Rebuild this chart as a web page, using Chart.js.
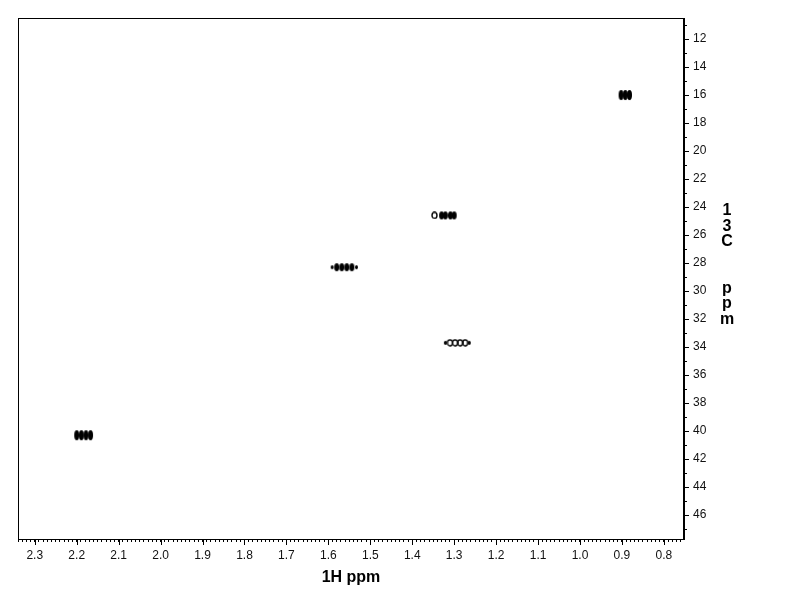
<!DOCTYPE html>
<html>
<head>
<meta charset="utf-8">
<title>HSQC</title>
<script src="https://cdn.jsdelivr.net/npm/chart.js@4.4.0/dist/chart.umd.min.js"></script>
<style>
  html, body { margin: 0; padding: 0; background: #fff; }
  canvas { display: block; }
</style>
</head>
<body>
<canvas id="hsqc" width="792" height="612"></canvas>
<script>
// axis ranges (ppm), both reversed like the spectrum
const hRange = [0.752, 2.34];
const cRange = [10.5, 47.71];
const hMinorStep = 0.01, hLabelStep = 0.1;
const cMinorStep = 1, cLabelStep = 2;

// cross peaks: 13C shift and the 1H multiplet lines
const c16 = 16.0, h16 = [0.902, 0.892, 0.882];
const c24 = 24.6, h24 = [1.347, 1.330, 1.321, 1.309, 1.300];
const c28 = 28.3, h28 = [1.591, 1.580, 1.568, 1.556, 1.544, 1.533];
const c33 = 33.7, h33 = [1.321, 1.310, 1.298, 1.286, 1.274, 1.264];
const c40 = 40.3, h40 = [2.200, 2.189, 2.178, 2.167];

const xTitle = "1H ppm";
const yTitle = ["1", "3", "C", "", "", "p", "p", "m"];

Chart.defaults.font.family = "'Liberation Sans', Arial, sans-serif";
Chart.defaults.color = "#111";

function blob(w, h, hollow) {
  const c = document.createElement("canvas");
  c.width = w + 2;
  c.height = h + 2;
  const g = c.getContext("2d");
  g.beginPath();
  g.ellipse(c.width / 2, c.height / 2, w / 2, h / 2, 0, 0, Math.PI * 2);
  if (hollow) {
    g.lineWidth = 1.4;
    g.strokeStyle = "#000";
    g.stroke();
  } else {
    g.fillStyle = "#000";
    g.fill();
  }
  return c;
}

const big = blob(5, 10, false);
const mid = blob(5, 8, false);
const small = blob(3, 4, false);
const ring = blob(5, 6, true);

function onStep(v, step) {
  const r = v / step;
  return Math.abs(r - Math.round(r)) < 1e-6;
}

function peak(c, hs, styleFn) {
  return {
    data: hs.map(h => ({ x: h, y: c })),
    pointStyle: ctx => styleFn(ctx.dataIndex, hs.length),
    pointRadius: 4,
    showLine: false
  };
}

const edgeSmall = (body) => (i, n) => (i === 0 || i === n - 1 ? small : body);

// frame, longer ticks at labelled values, stacked 13C title
const framePlugin = {
  id: "frame",
  afterDraw(chart) {
    const { ctx, chartArea: a, scales } = chart;
    ctx.save();
    ctx.strokeStyle = "#000";
    ctx.lineWidth = 1;
    ctx.strokeRect(a.left + 0.5, a.top + 0.5, a.right - a.left - 1, a.bottom - a.top);

    ctx.beginPath();
    scales.x.ticks.forEach(t => {
      if (!onStep(t.value, hLabelStep)) return;
      const px = Math.round(scales.x.getPixelForValue(t.value)) + 0.5;
      ctx.moveTo(px, a.bottom);
      ctx.lineTo(px, a.bottom + 6);
    });
    scales.y.ticks.forEach(t => {
      if (!onStep(t.value, cLabelStep)) return;
      const py = Math.round(scales.y.getPixelForValue(t.value)) + 0.5;
      ctx.moveTo(a.right, py);
      ctx.lineTo(a.right + 5, py);
    });
    ctx.stroke();

    ctx.fillStyle = "#000";
    ctx.font = "bold 16px 'Liberation Sans', Arial, sans-serif";
    ctx.textAlign = "center";
    ctx.textBaseline = "alphabetic";
    yTitle.forEach((s, i) => {
      if (s) ctx.fillText(s, a.right + 43, 215 + i * 15.5);
    });
    ctx.restore();
  }
};

new Chart(document.getElementById("hsqc"), {
  type: "scatter",
  data: {
    datasets: [
      peak(c16, h16, () => big),
      peak(c24, h24, (i) => (i === 0 ? ring : mid)),
      peak(c28, h28, edgeSmall(mid)),
      peak(c33, h33, edgeSmall(ring)),
      peak(c40, h40, () => big)
    ]
  },
  plugins: [framePlugin],
  options: {
    responsive: false,
    devicePixelRatio: 1,
    animation: false,
    layout: { padding: { left: 18, top: 18, right: 0, bottom: 0 } },
    plugins: {
      legend: { display: false },
      tooltip: { enabled: false }
    },
    scales: {
      x: {
        type: "linear",
        position: "bottom",
        reverse: true,
        min: hRange[0],
        max: hRange[1],
        afterFit: s => { s.height = 73; },
        border: { display: true, color: "#000" },
        grid: { display: true, drawOnChartArea: false, tickLength: 3, color: "#000" },
        ticks: {
          stepSize: hMinorStep,
          includeBounds: false,
          autoSkip: false,
          maxRotation: 0,
          minRotation: 0,
          padding: 6,
          font: { size: 12 },
          callback: v => (onStep(v, hLabelStep) ? v.toFixed(1) : "")
        },
        title: {
          display: true,
          text: xTitle,
          color: "#000",
          font: { size: 16, weight: "bold" },
          padding: { top: 2, bottom: 25 }
        }
      },
      y: {
        type: "linear",
        position: "right",
        reverse: true,
        min: cRange[0],
        max: cRange[1],
        afterFit: s => { s.width = 108; },
        border: { display: true, color: "#000" },
        grid: { display: true, drawOnChartArea: false, tickLength: 3, color: "#000" },
        ticks: {
          stepSize: cMinorStep,
          includeBounds: false,
          autoSkip: false,
          padding: 6,
          font: { size: 12 },
          callback: v => (onStep(v, cLabelStep) ? String(v) : "")
        }
      }
    }
  }
});
</script>
</body>
</html>
